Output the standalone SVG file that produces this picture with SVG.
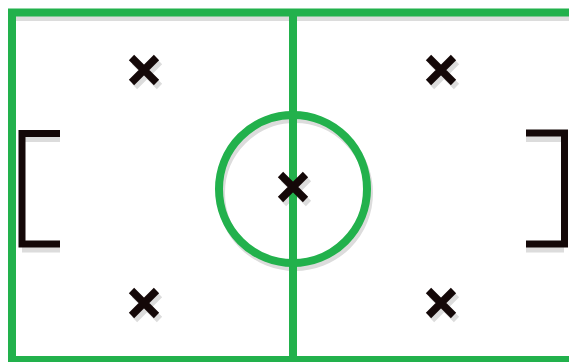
<svg xmlns="http://www.w3.org/2000/svg" width="569" height="362" viewBox="0 0 569 362">
<style>
.sh{stroke:#dcdcdc;fill:none}
.g{stroke:#22b14c;fill:none;stroke-width:8}
.k{stroke:#140808;fill:none;stroke-width:7}
.x{stroke-width:7.5}
</style>
<defs>
<g id="xm"><path d="M-12.5,-12.5L12.5,12.5M12.5,-12.5L-12.5,12.5"/></g>
</defs>
<rect width="569" height="362" fill="#fff"/>
<g id="shadows" class="sh">
<path d="M12,17.5H569" stroke-width="7"/>
<circle cx="295" cy="193" r="74" stroke-width="8"/>
<path d="M60,138.5H22M60,249H22M526,138.5H564M526,249H564" stroke-width="7"/>
<use href="#xm" x="147" y="74" stroke-width="7.5"/>
<use href="#xm" x="444" y="74" stroke-width="7.5"/>
<use href="#xm" x="147" y="307" stroke-width="7.5"/>
<use href="#xm" x="444" y="307" stroke-width="7.5"/>
<use href="#xm" x="296" y="191" stroke-width="7.5"/>
</g>
<g id="field" class="g">
<path d="M12,362V12.5H569"/>
<path d="M8,360H569"/>
<path d="M293,12V362"/>
<circle id="center-circle" cx="293" cy="189" r="74"/>
</g>
<g id="goal-left" class="k"><path d="M60,133.5H22V244H60"/></g>
<g id="goal-right" class="k"><path d="M526,133H564.5V244H526"/></g>
<g id="marks" stroke="#140808">
<use id="x-tl" href="#xm" x="144" y="70" class="x"/>
<use id="x-tr" href="#xm" x="441" y="70" class="x"/>
<use id="x-bl" href="#xm" x="144" y="303" class="x"/>
<use id="x-br" href="#xm" x="441" y="303" class="x"/>
<use id="x-c" href="#xm" x="293" y="187" class="x"/>
</g>
</svg>
